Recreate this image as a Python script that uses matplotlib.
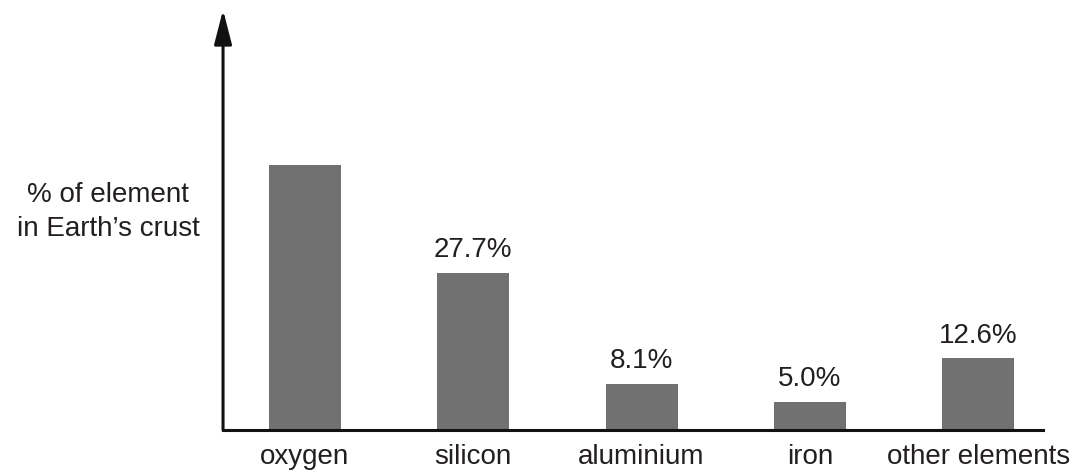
import matplotlib.pyplot as plt

plt.rcParams['font.family'] = ['Liberation Sans', 'DejaVu Sans']

elements = ['oxygen', 'silicon', 'aluminium', 'iron', 'other elements']
percent = [46.6, 27.7, 8.1, 5.0, 12.6]
bar_text = ['', '27.7%', '8.1%', '5.0%', '12.6%']

fig = plt.figure(figsize=(10.78, 4.70), dpi=100)
ax = fig.add_axes([0.2069, 0.0851, 0.7607, 0.894])

x = range(len(elements))
bars = ax.bar(x, percent, width=0.428, color='#717171')
ax.bar_label(bars, labels=bar_text, padding=7, fontsize=20, color='#231f20')

ax.set_xlim(-0.487, 4.386)
ax.set_ylim(0, 73.9)
ax.set_xticks(list(x))
ax.set_xticklabels(elements, fontsize=20, color='#231f20')
ax.tick_params(axis='x', length=0, pad=10)
ax.set_yticks([])

for side in ['top', 'right', 'left']:
    ax.spines[side].set_visible(False)
ax.spines['bottom'].set_linewidth(2.2)
ax.spines['bottom'].set_color('#111111')

# y axis with arrow head
ax.annotate('', xy=(0, 1), xytext=(0, 0), xycoords='axes fraction',
            arrowprops=dict(arrowstyle='-|>,head_length=2.1,head_width=0.54',
                            mutation_scale=10, lw=2.2, color='#111111',
                            shrinkA=0, shrinkB=0))

fig.text(108 / 1078, 1 - 212 / 470, '% of element\nin Earth\u2019s crust',
         ha='center', va='center', multialignment='center',
         fontsize=20, linespacing=1.45, color='#231f20')

fig.savefig('out.png', dpi=100)
